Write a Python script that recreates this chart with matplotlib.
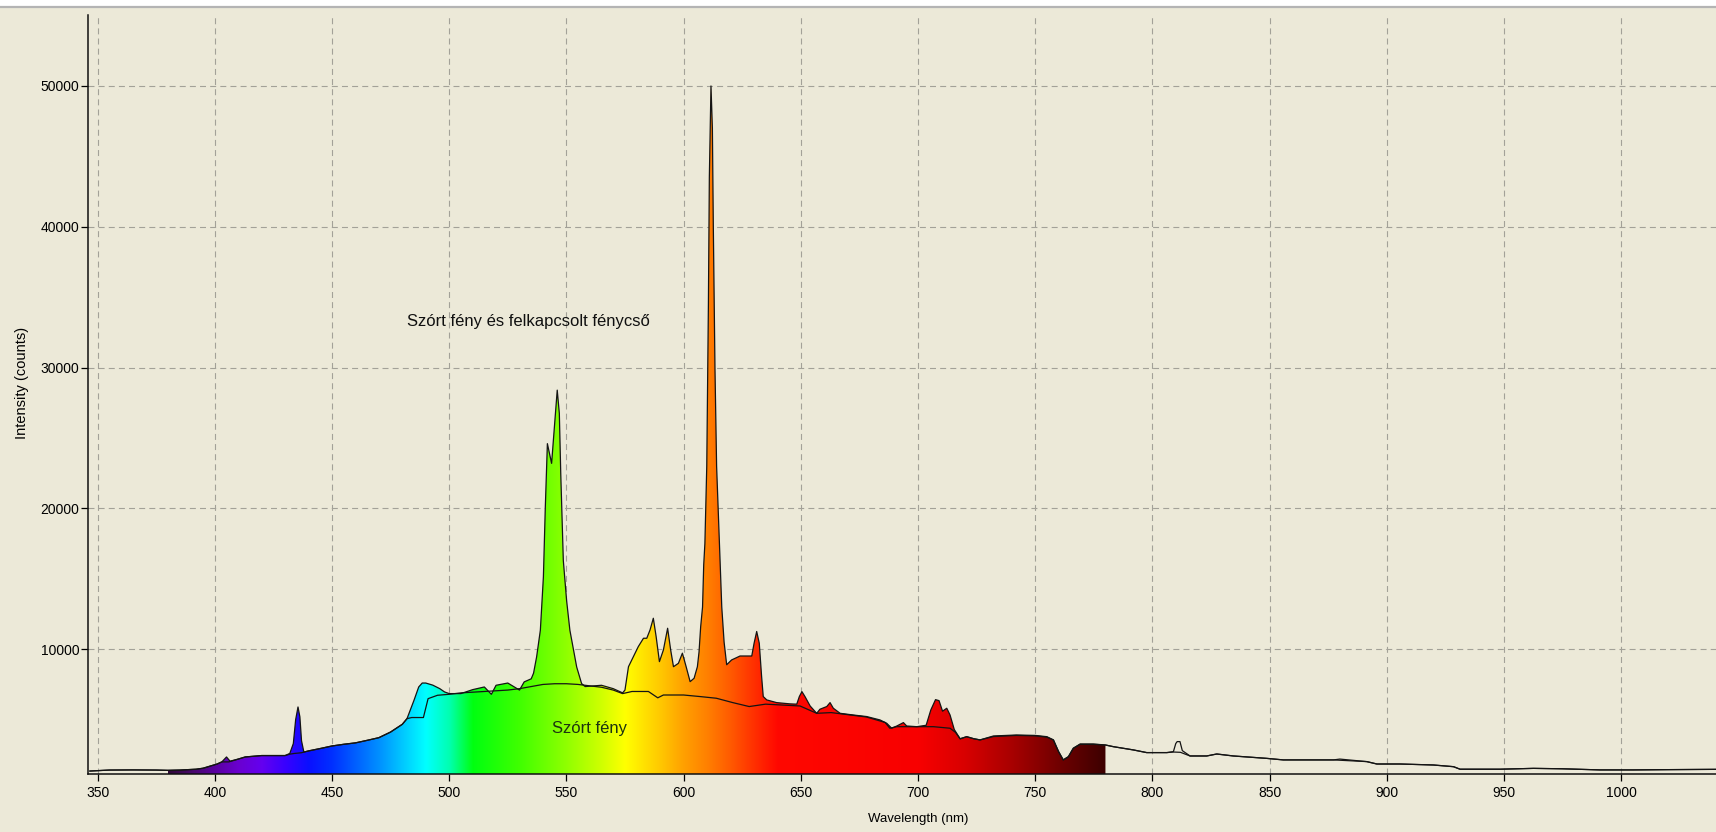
import numpy as np
import matplotlib
matplotlib.use("Agg")
import matplotlib.pyplot as plt
from matplotlib.patches import Rectangle
from matplotlib.lines import Line2D

# ---------------- data ----------------
# Combined spectrum: scattered light + switched-on fluorescent tube
wl_comb = [346.7, 355, 365, 375, 380, 385, 392, 395, 398, 401, 403, 405, 406.5, 410, 413, 420, 430,
           432, 433.5, 434.5, 435.5, 436.3, 437, 438, 440, 445, 450, 455, 460, 465, 470, 475, 480,
           482, 485, 487, 488.5, 490, 493, 496, 498, 500, 505, 510, 515, 518, 520, 525, 530, 532,
           535, 536, 537.3, 538.9, 540.2, 541, 541.9, 543.7, 546.1, 547, 547.6, 548.7, 550.1, 551.5,
           552.3, 554.4, 556.5, 558, 565, 570, 574, 575, 576.5, 577.9, 580.7, 582.9, 584.3, 585.7,
           587.1, 588.3, 589.7, 591.4, 593.2, 594.5, 595.7, 597.8, 599.5, 601.1, 602.8, 604.5, 605.9,
           606.6, 607.3, 608.1, 608.6, 609.1, 609.9, 610.6, 611.0, 611.7, 612.3, 612.7, 613.4, 614.1,
           615.3, 616.3, 617.3, 618.4, 620.5, 624.1, 629.1, 630.1, 631.2, 632.3, 633.3, 634.0, 635.5,
           639.7, 645.4, 648.3, 649.4, 650.5, 651.8, 654.0, 656.8, 658.2, 661.1, 662.5, 663.9, 666.8,
           672.4, 678.1, 683.8, 686.7, 688.8, 691.0, 693.8, 695.2, 699.5, 703.5, 705.5, 707.5, 709.0,
           710.5, 712.3, 713.7, 715.5, 718.0, 720.8, 723.7, 726.5, 732.2, 742, 750, 755, 757.8, 760.0,
           762.0, 764.2, 766.3, 769.2, 774.8, 780, 783.4, 791.9, 797.6, 806.2, 809.0, 810.0, 810.6,
           811.8, 812.8, 816.1, 823.2, 827.5, 834.6, 848.8, 855.9, 877.3, 880, 891.5, 895.8, 905.7,
           919.9, 928.5, 931.3, 948.4, 962.6, 975, 991, 1005.3, 1020, 1040.5]
int_comb = [1350, 1420, 1430, 1420, 1400, 1420, 1480, 1550, 1700, 1850, 2000, 2350, 2050, 2200, 2350, 2450, 2450,
            2600, 3300, 5000, 5900, 5200, 3500, 2700, 2780, 2950, 3130, 3250, 3350, 3530, 3720, 4120, 4670,
            5070, 6380, 7320, 7600, 7600, 7450, 7200, 6970, 6850, 6850, 7130, 7320, 6800, 7440, 7600, 7100, 7680,
            7900, 8300, 9450, 11350, 15140, 20000, 24600, 23200, 28400, 26750, 22500, 16300, 13460, 11350,
            10620, 8740, 7560, 7350, 7440, 7200, 6900, 7100, 8760, 9240, 10190, 10780, 10780, 11370,
            12200, 10900, 9120, 9950, 11490, 9950, 8760, 9000, 9720, 8760, 7700, 7940, 8760,
            9800, 11600, 13000, 16000, 17500, 23000, 34500, 43500, 50000, 47000, 40000, 30000, 23000,
            17500, 13000, 10500, 8900, 9240, 9520, 9520, 10430, 11260, 10430, 8060, 6640, 6400,
            6210, 6120, 6100, 6640, 6990, 6640, 5970, 5450, 5740, 5930, 6210, 5810, 5450,
            5330, 5220, 4980, 4740, 4390, 4550, 4790, 4550, 4500, 4600, 5690, 6420, 6350,
            5600, 5810, 5330, 4300, 3640, 3790, 3650, 3560, 3840, 3910, 3880, 3790, 3560, 2730,
            2140, 2370, 2970, 3270, 3270, 3200, 3080, 2850, 2660, 2660, 2730, 3300, 3440,
            3440, 2800, 2420, 2420, 2560, 2420, 2250, 2140, 2140, 2200, 2020, 1850, 1850,
            1780, 1660, 1480, 1480, 1540, 1510, 1430, 1430, 1450, 1470]

# Scattered light only
wl_scat = [346.7, 355, 365, 375, 380, 385, 392, 395, 398, 401, 403, 406, 410, 413, 420, 430, 432, 434,
           437, 440, 445, 450, 455, 460, 465, 470, 475, 480, 482, 484, 489, 491, 495, 500, 505, 510,
           515, 520, 525, 530, 535, 540, 545, 550, 555, 560, 565, 570, 574, 578, 585, 589, 591.4, 600,
           607, 614, 621, 628, 635, 649.7, 656.8, 663, 678, 686, 688, 691, 706.6, 713.7, 716, 718,
           720.8, 723.7, 726.5, 732.2, 742, 750, 755, 757.8, 760, 762, 764.2, 766.3, 769.2, 774.8,
           780, 783.4, 791.9, 797.6, 806.2, 809, 812, 816.1, 823.2, 827.5, 834.6, 848.8, 855.9,
           877.3, 891.5, 895.8, 905.7, 919.9, 928.5, 931.3, 948.4, 962.6, 975, 991, 1005.3, 1020, 1040.5]
int_scat = [1350, 1420, 1430, 1420, 1400, 1420, 1480, 1550, 1700, 1850, 2000, 2000, 2200, 2350, 2450, 2450, 2550, 2600,
            2650, 2780, 2950, 3130, 3250, 3350, 3530, 3720, 4120, 4670, 5070, 5150, 5150, 6490, 6730, 6800, 6900, 6950,
            7000, 7050, 7100, 7200, 7350, 7500, 7550, 7550, 7500, 7400, 7300, 7100, 6850, 7000, 7000, 6550, 6750, 6750,
            6640, 6520, 6210, 5930, 6100, 5970, 5450, 5500, 5190, 4800, 4390, 4500, 4500, 4390, 4100, 3640,
            3790, 3650, 3560, 3800, 3880, 3850, 3760, 3560, 2730, 2140, 2370, 2970, 3250, 3250,
            3200, 3080, 2850, 2660, 2660, 2700, 2680, 2420, 2420, 2560, 2420, 2250, 2140,
            2140, 2020, 1850, 1850, 1780, 1660, 1480, 1480, 1540, 1510, 1430, 1430, 1450, 1470]

x_ticks = [350, 400, 450, 500, 550, 600, 650, 700, 750, 800, 850, 900, 950, 1000]
y_ticks = [10000, 20000, 30000, 40000, 50000]
x_label = "Wavelength (nm)"
y_label = "Intensity (counts)"
label_main = "Szórt fény és felkapcsolt fénycső"
label_scat = "Szórt fény"

# ---------------- style ----------------
W, H = 1716, 832
BG = "#ECE9D8"
plt.rcParams["font.family"] = ["Liberation Sans", "DejaVu Sans"]
plt.rcParams["lines.scale_dashes"] = False

fig = plt.figure(figsize=(W / 100, H / 100), dpi=100, facecolor=BG)
ax = fig.add_axes([88 / W, (H - 774) / H, 1 - 88 / W, (774 - 15) / H])
ax.set_facecolor(BG)
XLIM = (345.9, 1040.5)
YLIM = (1140, 55040)

# spectral colour gradient (visible range)
stop_nm = [380, 390, 400, 410, 420, 430, 440, 450, 460, 470, 480, 490, 500, 505, 510, 530, 550,
           565, 575, 590, 600, 610, 620, 630, 640, 700, 720, 740, 760, 780]
stop_col = ["#300838", "#48086a", "#5a00a0", "#6a00d0", "#6400f0", "#3800ff", "#0a10ff", "#0030ff",
            "#0060ff", "#0090ff", "#00c8ff", "#00ffff", "#00ffb0", "#00ff60", "#00ff10", "#40ff00",
            "#90ff00", "#d0ff00", "#ffff00", "#ffc800", "#ffa000", "#ff8000", "#ff5a00", "#ff3000",
            "#ff0800", "#f80000", "#d80000", "#a80000", "#700000", "#3c0000"]
rgb = np.array([matplotlib.colors.to_rgb(c) for c in stop_col])
gx = np.linspace(380, 780, 1200)
grad = np.stack([np.interp(gx, stop_nm, rgb[:, k]) for k in range(3)], axis=-1)[None, :, :]
im = ax.imshow(grad, extent=[380, 780, YLIM[0], YLIM[1]], aspect="auto",
               interpolation="bilinear", zorder=1)
wc = np.array(wl_comb)
ic = np.array(int_comb)
mask = (wc >= 380) & (wc <= 780)
poly = ax.fill_between(wc, YLIM[0], ic, where=mask, facecolor="none", edgecolor="none")
im.set_clip_path(poly.get_paths()[0], transform=ax.transData)

ax.plot(wl_scat, int_scat, color="#141414", lw=0.9, zorder=3)
ax.plot(wl_comb, int_comb, color="#141414", lw=0.9, zorder=3)

ax.set_xlim(*XLIM)
ax.set_ylim(*YLIM)
ax.set_xticks(x_ticks)
ax.set_yticks(y_ticks)
ax.tick_params(direction="out", length=5, width=0.9, labelsize=10, colors="#000000")
ax.tick_params(axis="x", pad=3.4)
ax.tick_params(axis="y", pad=1.2)
ax.grid(True, color="#a3a198", lw=0.8, linestyle=(0, (4.3, 3.0)))
ax.set_axisbelow(True)
for s in ["top", "right"]:
    ax.spines[s].set_visible(False)
for s in ["left", "bottom"]:
    ax.spines[s].set_linewidth(1.1)
    ax.spines[s].set_color("#101010")
    ax.spines[s].set_zorder(4)

ax.text(482, 33300, label_main, fontsize=12, ha="left", va="center", color="#101010", zorder=5)
ax.text(560, 4390, label_scat, fontsize=12, ha="center", va="center", color="#1c3310", zorder=5)

fig.text(918 / W, 1 - 818.6 / H, x_label, fontsize=9.5, ha="center", va="center")
fig.text(22 / W, 1 - 383 / H, y_label, fontsize=10.5, ha="center", va="center", rotation=90)

# window-like top strip
fig.patches.append(Rectangle((0, 1 - 6 / H), 1, 6 / H, transform=fig.transFigure,
                             facecolor="white", edgecolor="none", zorder=10))
fig.lines.append(Line2D([0, 1], [1 - 7 / H, 1 - 7 / H], transform=fig.transFigure,
                        color="#b4b4b4", lw=1.6, zorder=11))

fig.savefig("out.png", dpi=100, facecolor=BG)
